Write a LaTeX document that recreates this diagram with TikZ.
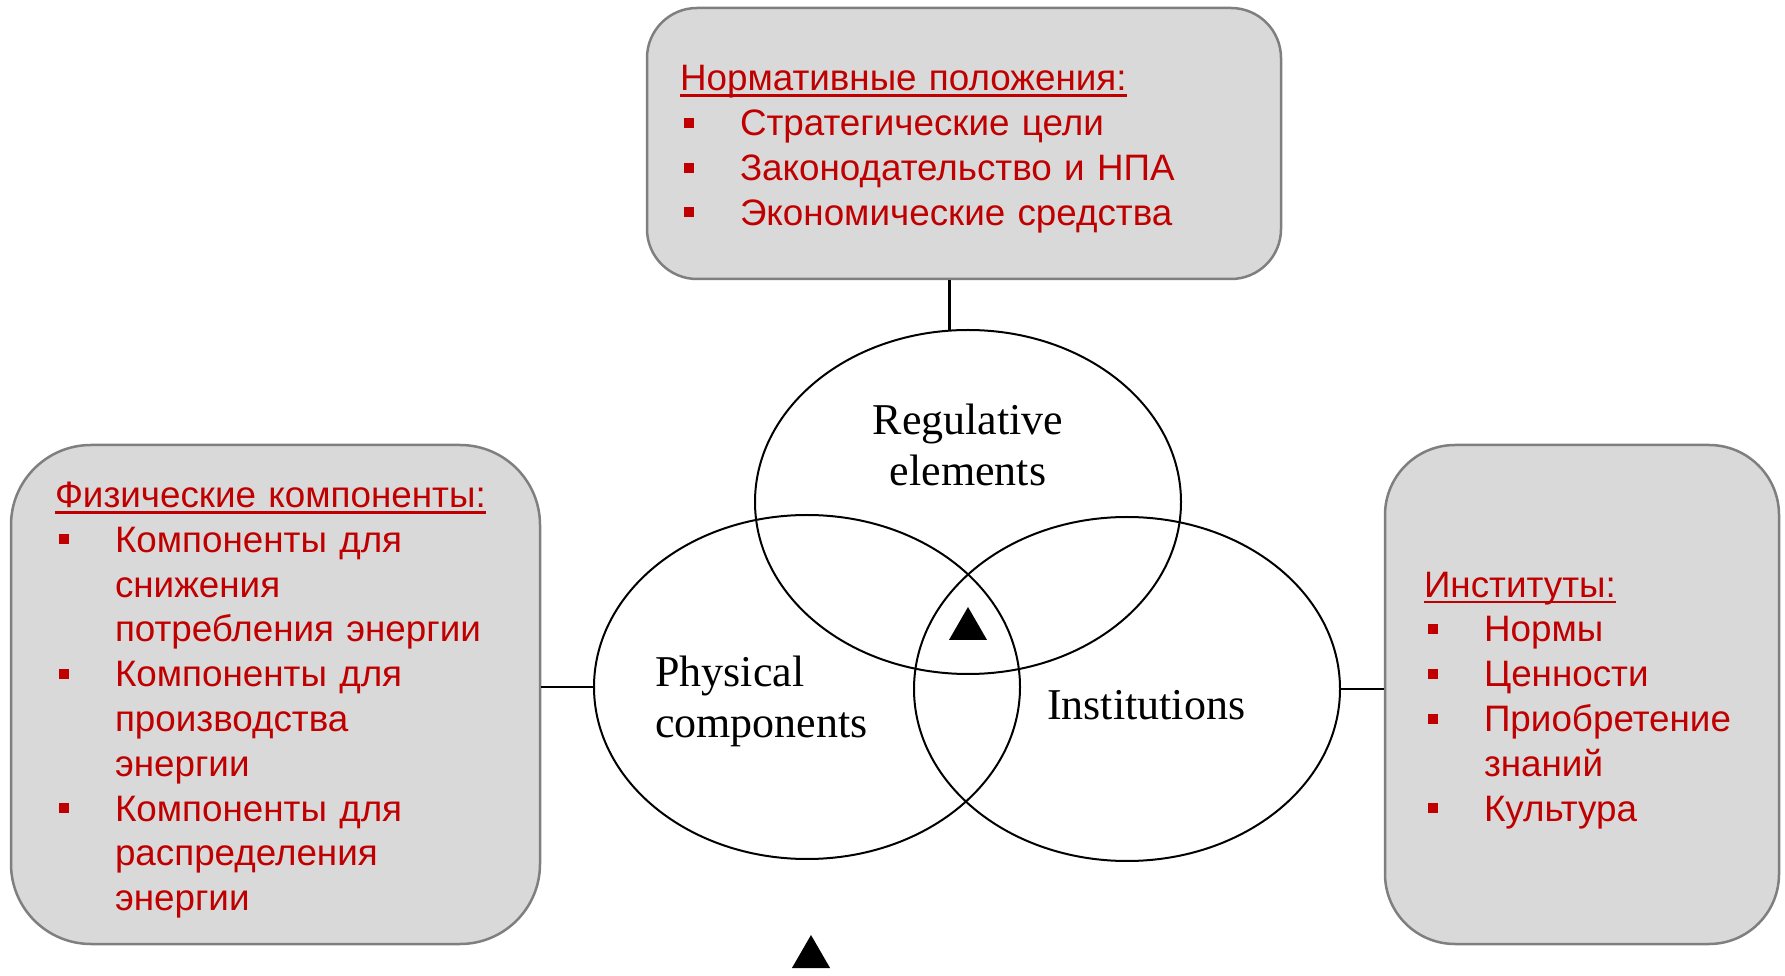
\documentclass[tikz,border=0pt]{standalone}
\usepackage{fontspec}
\setmainfont{Liberation Sans}
\newfontfamily\vennfont{Liberation Serif}
\usepackage{xcolor}
\usepackage{tikz}
\usetikzlibrary{positioning,shapes.geometric,calc}
\definecolor{slidered}{HTML}{C00000}
\definecolor{slidegrey}{HTML}{7F7F7F}
\definecolor{slideground}{HTML}{D9D9D9}
\newsavebox{\hdbox}
\newcommand{\ulhead}[1]{\sbox{\hdbox}{#1}\rule{0pt}{42.8pt}\rlap{\rule[-6pt]{\wd\hdbox}{2.5pt}}\usebox{\hdbox}}
\newcommand{\sqb}{\hspace*{4pt}\raisebox{8pt}{\rule{10pt}{10pt}}}

\begin{document}
\begin{tikzpicture}[x=1pt, y=1pt, every node/.style={inner sep=0pt},
  blk/.style={draw=slidegrey, fill=slideground, line width=2.5pt, align=left, text=slidered, font=\fontsize{36.8}{44.8}\selectfont},
  venn/.style={draw, ellipse, line width=2pt, minimum width=426pt, minimum height=344pt},
  lbl/.style={font=\vennfont\fontsize{44}{51}\selectfont, align=center},
  tri/.style={regular polygon, regular polygon sides=3, fill=black, minimum size=44pt},
  link/.style={line width=2.8pt}]
\useasboundingbox (0,0) rectangle (1785,975);
% boxes
\node[blk, rounded corners=50pt, inner xsep=33pt, text width=568pt, minimum height=271pt] (regbox) at (964,831.5) {%
\begin{tabular}{@{}p{60pt}@{}l@{}}
\multicolumn{2}{@{}l@{}}{\ulhead{Нормативные положения:}}\\
\sqb & Стратегические цели\\
\sqb & Законодательство и НПА\\
\sqb & Экономические средства
\end{tabular}};
\node[blk, rounded corners=80pt, inner xsep=44pt, text width=441pt, minimum height=499pt] (physbox) at (275.5,280.5) {%
\begin{tabular}{@{}p{60pt}@{}l@{}}
\multicolumn{2}{@{}l@{}}{\ulhead{Физические компоненты:}}\\
\sqb & Компоненты для\\
 & снижения\\
 & потребления энергии\\
\sqb & Компоненты для\\
 & производства\\
 & энергии\\
\sqb & Компоненты для\\
 & распределения\\
 & энергии
\end{tabular}};
\node[blk, rounded corners=70pt, inner xsep=39pt, text width=316pt, minimum height=499pt] (instbox) at (1582,280.5) {%
\begin{tabular}{@{}p{60pt}@{}l@{}}
\multicolumn{2}{@{}l@{}}{\ulhead{Институты:}}\\
\sqb & Нормы\\
\sqb & Ценности\\
\sqb & Приобретение\\
 & знаний\\
\sqb & Культура
\end{tabular}};
% venn
\node[venn] (reg) at (968,473) {};
\node[venn] (phys) at (807,288) {};
\node[venn] (inst) at (1127,286) {};
\node[lbl] (regtxt) at (968,530) {Regulative\\elements};
\node[lbl, align=left, anchor=west] (phystxt) at (655,274) {Physical\\components};
\node[lbl, anchor=west] (insttxt) at (1047,270) {Institutions};
\node[tri] (core) at (968,346) {};
\node[tri] (mark) at (811,18) {};
\draw[link] (regbox.south -| reg.96) -- (reg.96);
\draw[link] (physbox.east |- phys.west) -- (phys.west);
\draw[link] (inst.east) -- (inst.east -| instbox.west);
\end{tikzpicture}
\end{document}
